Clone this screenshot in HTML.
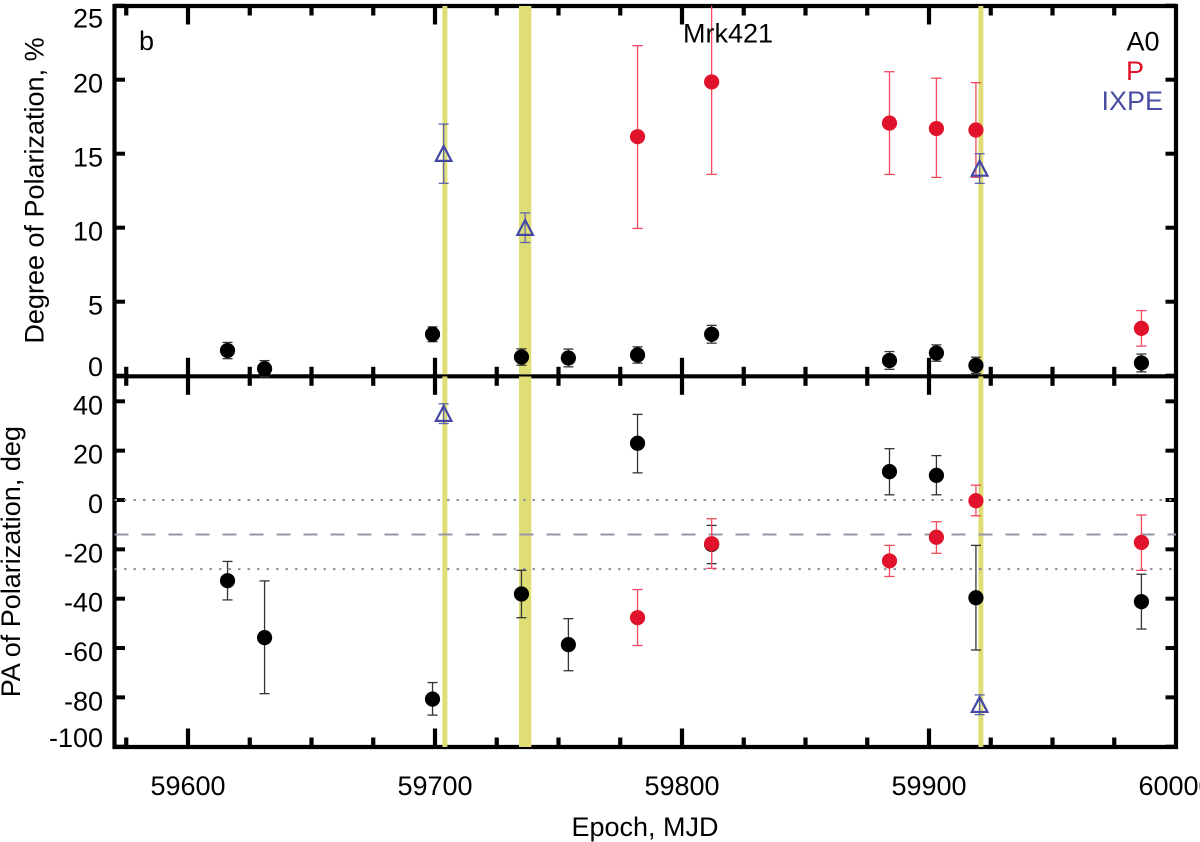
<!DOCTYPE html>
<html lang="en">
<head>
<meta charset="utf-8">
<title>Mrk421 polarization</title>
<style>
html,body{margin:0;padding:0;background:#fff;}
svg{display:block;font-family:"Liberation Sans",Arial,sans-serif;}
text{font-size:27px;fill:#000;}
</style>
</head>
<body>
<svg id="chart" width="1200" height="842" viewBox="0 0 1200 842" xmlns="http://www.w3.org/2000/svg">
  <rect width="1200" height="842" fill="#fff"/>
  <g id="axes"></g>
  <g id="bands"></g>
  <g id="refs"></g>
  <g id="marks"></g>
  <g id="labels"></g>
  <text x="139" y="50">b</text>
  <text x="683" y="42.7">Mrk421</text>
  <text x="1126.5" y="50.7">A0</text>
  <text x="1126" y="80" style="fill:#e1132c">P</text>
  <text x="1101.5" y="110" style="fill:#4a4ea3">IXPE</text>
  <text transform="translate(43.3 190.5) rotate(-90)" text-anchor="middle">Degree of Polarization, %</text>
  <text transform="translate(20 561.7) rotate(-90)" text-anchor="middle">PA of Polarization, deg</text>
  <text x="645" y="836" text-anchor="middle">Epoch, MJD</text>
</svg>
<script>
// Tick values
const xMajorTicks = [59600, 59700, 59800, 59900, 60000];
const xMinorTicks = [59575, 59625, 59650, 59675, 59725, 59750, 59775, 59825, 59850, 59875, 59925, 59950, 59975];
const dpTicks = [25, 20, 15, 10, 5, 0];
const paTicks = [40, 20, 0, -20, -40, -60, -80, -100];

// Observation bands (MJD)
const bandStarts = [59703, 59734, 59920];
const bandEnds = [59705, 59739, 59922];

// Reference levels (deg)
const paDotted = [0, -28];
const paDashed = [-14];

// A0 series
const a0Epochs = [59616, 59631, 59699, 59735, 59754, 59782, 59812, 59884, 59903, 59919, 59986];
const a0Dp = [1.7, 0.47, 2.8, 1.26, 1.2, 1.4, 2.8, 1.03, 1.53, 0.7, 0.86];
const a0DpErr = [0.55, 0.55, 0.5, 0.55, 0.6, 0.55, 0.6, 0.6, 0.55, 0.55, 0.6];
const a0Pa = [-32.7, -55.8, -80.7, -38.1, -58.6, 23, -18, 11.5, 10, -39.6, -41.2];
const a0PaHi = [-24.9, -32.8, -74, -28.5, -48.1, 34.7, -10.3, 20.8, 18, -18.4, -30.1];
const a0PaLo = [-40.5, -78.5, -87.2, -47.7, -69.2, 11, -25.8, 2.1, 2.1, -60.8, -52.3];

// P series
const pEpochs = [59782, 59812, 59884, 59903, 59919, 59986];
const pDp = [16.15, 19.85, 17.07, 16.7, 16.6, 3.2];
const pDpHi = [22.3, 25, 20.54, 20.1, 19.8, 4.4];
const pDpLo = [9.95, 13.6, 13.6, 13.4, 13.4, 2.0];
const pPa = [-47.7, -17.7, -24.7, -15.1, -0.3, -17.2];
const pPaHi = [-36.3, -7.6, -18.4, -8.8, 6, -6.1];
const pPaLo = [-59, -27.7, -31, -21.6, -6.4, -28.5];

// IXPE series
const ixpeDpEpochs = [59703.5, 59736.5, 59920.5];
const ixpeDp = [15, 10, 14];
const ixpeDpHi = [17, 11, 15];
const ixpeDpLo = [13, 9, 13];
const ixpePaEpochs = [59703.5, 59920.5];
const ixpePa = [35, -83];
const ixpePaHi = [39, -79];
const ixpePaLo = [31, -87];

const NS = 'http://www.w3.org/2000/svg';
const X = v => 188 + (v - 59600) * 2.47;
const YD = v => 375.7 - v * 14.8;
const YP = v => 500 - v * 2.467;
const LEFT = 114.5, RIGHT = 1176, TOP = 6, MID = 376.3, BOTTOM = 747;
const axes = document.getElementById('axes');
const bands = document.getElementById('bands');
const refs = document.getElementById('refs');
const marks = document.getElementById('marks');
const labels = document.getElementById('labels');

function el(parent, tag, geom) {
  const n = document.createElementNS(NS, tag);
  for (const k in geom) n.setAttribute(k, geom[k]);
  parent.appendChild(n);
  return n;
}
function seg(parent, x1, y1, x2, y2, color, w) {
  return el(parent, 'line', {x1: x1, y1: y1, x2: x2, y2: y2, stroke: color, 'stroke-width': w});
}

// frame
const frame = el(axes, 'path', {d: 'M' + LEFT + ' ' + TOP + 'H' + RIGHT + 'V' + BOTTOM + 'H' + LEFT + 'Z', fill: 'none', stroke: '#000', 'stroke-width': 4.2});


const divider = seg(axes, LEFT, MID, RIGHT, MID, '#000', 4.2);



// x ticks
function xTicks(list, len, name) {
  list.forEach(v => {
    const x = X(v);
    if (v >= 60000) return;
    [[TOP, TOP + len], [MID, MID - len], [MID, MID + len], [BOTTOM, BOTTOM - len]].forEach(p => {
      const t = seg(axes, x, p[0], x, p[1], '#000', 4.2);
      
      
    });
  });
}
xTicks(xMajorTicks, 18.5, 'x-major-tick');
xTicks(xMinorTicks, 9.5, 'x-minor-tick');

xMajorTicks.forEach(v => {
  const t = el(labels, 'text', {x: X(v), y: 795, 'text-anchor': 'middle'});
  t.textContent = String(v);
  
  
});

// y ticks
function yTicks(list, scale, name) {
  list.forEach(v => {
    const y = scale(v);
    [[LEFT, LEFT + 10.5], [RIGHT, RIGHT - 10.5]].forEach(p => {
      const t = seg(axes, p[0], y, p[1], y, '#000', 4);
      
      
    });
    const edge = (y < 10 ? 22 : (Math.abs(y - MID) < 2 || Math.abs(y - BOTTOM) < 2 ? 0.5 : 13));
    const l = el(labels, 'text', {x: 103, y: y + edge, 'text-anchor': 'end'});
    l.textContent = String(v);
    
    
  });
}
yTicks(dpTicks, YD, 'degree-axis');
yTicks(paTicks, YP, 'pa-axis');

// bands
bandStarts.forEach((s, i) => {
  [[TOP, MID - 2], [MID + 0.2, BOTTOM]].forEach(p => {
    const b = el(bands, 'rect', {x: X(s), y: p[0], width: X(bandEnds[i]) - X(s), height: p[1] - p[0], fill: '#dfdd76'});
    
    
  });
});

// reference lines
paDotted.forEach(v => {
  const l = seg(refs, LEFT, YP(v), RIGHT, YP(v), '#8f8da4', 2);
  l.setAttribute('stroke-dasharray', '2.5 7');
  
  
});
paDashed.forEach(v => {
  const l = seg(refs, LEFT, YP(v), RIGHT, YP(v), '#9795a8', 2);
  l.setAttribute('stroke-dasharray', '14 13');
  
  
});

// marks
function errBar(x, yHi, yLo, color, cap, name) {
  const g = el(marks, 'g', {stroke: color, 'stroke-width': 1.3});
  
  
  el(g, 'line', {x1: x, y1: yHi, x2: x, y2: yLo});
  if (yHi > TOP + 1) el(g, 'line', {x1: x - cap, y1: yHi, x2: x + cap, y2: yHi});
  el(g, 'line', {x1: x - cap, y1: yLo, x2: x + cap, y2: yLo});
}
function dot(x, y, color, name) {
  const c = el(marks, 'circle', {cx: x, cy: y, r: 7.6, fill: color});
  
  
}
function tri(x, y, name) {
  const p = el(marks, 'path', {d: 'M' + x + ' ' + (y - 7.7) + 'L' + (x + 7.8) + ' ' + (y + 7.2) + 'H' + (x - 7.8) + 'Z', fill: 'none', stroke: '#4349a5', 'stroke-width': 2.2});
  
  
}

// A0 degree
a0Epochs.forEach((e, i) => {
  errBar(X(e), YD(a0Dp[i] + a0DpErr[i]), YD(a0Dp[i] - a0DpErr[i]), '#333', 5, 'a0-degree-error-bar');
});
a0Epochs.forEach((e, i) => {
  dot(X(e), YD(a0Dp[i]), '#000', 'a0-degree-point');
});
// A0 PA
a0Epochs.forEach((e, i) => {
  errBar(X(e), YP(a0PaHi[i]), YP(a0PaLo[i]), '#333', 5, 'a0-pa-error-bar');
});
a0Epochs.forEach((e, i) => {
  dot(X(e), YP(a0Pa[i]), '#000', 'a0-pa-point');
});
// P degree and PA
pEpochs.forEach((e, i) => {
  errBar(X(e), YD(pDpHi[i]), YD(pDpLo[i]), '#ef4a5e', 5.2, 'p-degree-error-bar');
  errBar(X(e), YP(pPaHi[i]), YP(pPaLo[i]), '#ef4a5e', 5.2, 'p-pa-error-bar');
});
pEpochs.forEach((e, i) => {
  dot(X(e), YD(pDp[i]), '#e1132c', 'p-degree-point');
  dot(X(e), YP(pPa[i]), '#e1132c', 'p-pa-point');
});
// IXPE
ixpeDpEpochs.forEach((e, i) => {
  errBar(X(e), YD(ixpeDpHi[i]), YD(ixpeDpLo[i]), '#5f63ad', 5, 'ixpe-degree-error-bar');
  tri(X(e), YD(ixpeDp[i]), 'ixpe-degree-point');
});
ixpePaEpochs.forEach((e, i) => {
  errBar(X(e), YP(ixpePaHi[i]), YP(ixpePaLo[i]), '#5f63ad', 5, 'ixpe-pa-error-bar');
  tri(X(e), YP(ixpePa[i]), 'ixpe-pa-point');
});
</script>
</body>
</html>
